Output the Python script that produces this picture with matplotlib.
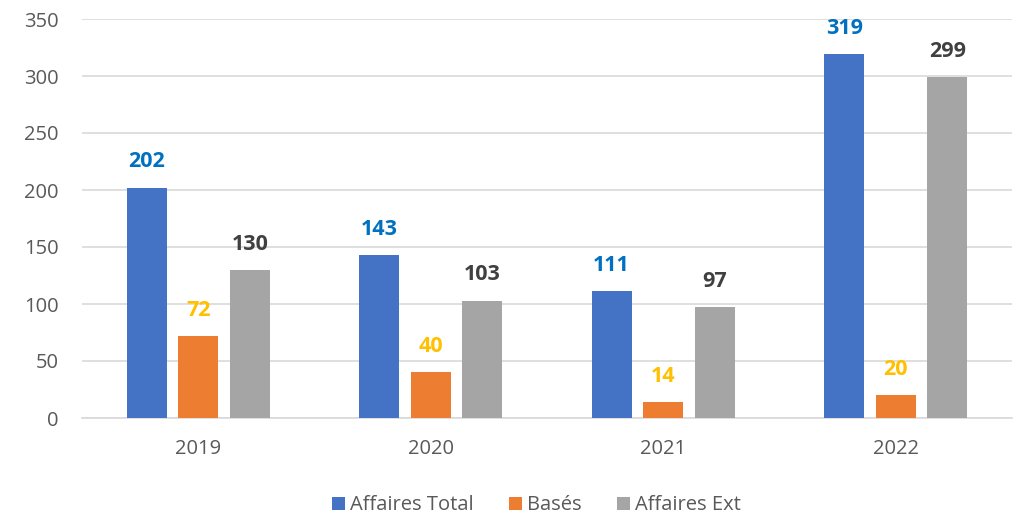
import matplotlib
matplotlib.use("Agg")
import matplotlib.pyplot as plt
import numpy as np

plt.rcParams['font.family'] = ['Open Sans', 'DejaVu Sans']

years = ["2019", "2020", "2021", "2022"]
affaires_total = [202, 143, 111, 319]
bases = [72, 40, 14, 20]
affaires_ext = [130, 103, 97, 299]
series_names = ["Affaires Total", "Basés", "Affaires Ext"]
bar_colors = ["#4472C4", "#ED7D31", "#A5A5A5"]
label_colors = ["#0070C0", "#FFC000", "#404040"]

fig = plt.figure(figsize=(10.16, 5.14), dpi=100)
ax = fig.add_axes([82/1016, 96/514, 930/1016, 399/514])

x = np.arange(len(years))
w = 0.172
offs = [-0.222, 0.0, 0.222]
for vals, name, c, lc, o in zip([affaires_total, bases, affaires_ext], series_names, bar_colors, label_colors, offs):
    bars = ax.bar(x + o, vals, w, color=c, label=name, zorder=3)
    for b, v in zip(bars, vals):
        ax.annotate(str(v), (b.get_x() + b.get_width()/2, v), xytext=(0, 11),
                    textcoords="offset points", ha="center", va="bottom",
                    color=lc, fontsize=15.5, fontweight="bold")

ax.set_xlim(-0.5, 3.5)
ax.set_ylim(0, 350)
ax.set_yticks(range(0, 351, 50))
ax.set_xticks(x)
ax.set_xticklabels(years)
ax.yaxis.grid(True, color="#D9D9D9", linewidth=1.2, zorder=0)
for s in ["top", "right", "left"]:
    ax.spines[s].set_visible(False)
ax.spines["bottom"].set_color("#D9D9D9")
ax.spines["bottom"].set_linewidth(1.2)
ax.tick_params(axis="both", length=0, labelsize=14.5, labelcolor="#595959")
ax.tick_params(axis="x", pad=15)
ax.tick_params(axis="y", pad=17)

leg = fig.legend(loc="lower center", bbox_to_anchor=(0.528, -0.038), ncol=3, frameon=False,
                 fontsize=14.5, handlelength=0.6, handleheight=0.6, handletextpad=0.25, columnspacing=1.8)
for t in leg.get_texts():
    t.set_color("#595959")

fig.savefig("out.png", dpi=100)
